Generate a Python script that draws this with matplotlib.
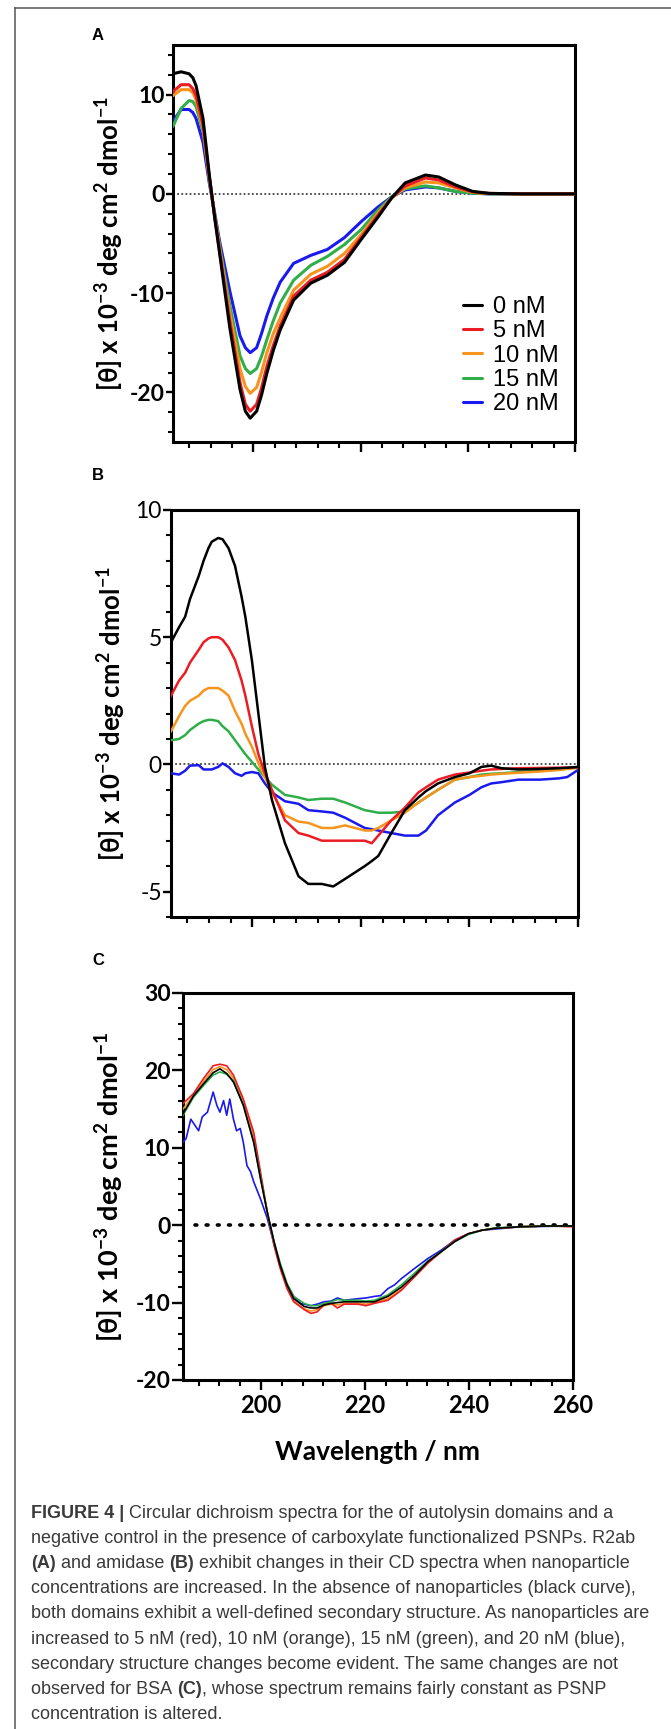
import matplotlib
matplotlib.use('Agg')
import matplotlib.pyplot as plt
from matplotlib.ticker import MultipleLocator
from matplotlib.lines import Line2D
from matplotlib.font_manager import FontProperties, fontManager

# ---------------- data ----------------
conc_labels = ['0 nM', '5 nM', '10 nM', '15 nM', '20 nM']
colors = ['#000000', '#ec1c24', '#f7941d', '#2fae49', '#1a1aee']

# panel A : R2ab
wl_a = [185, 186.5, 188, 188.7, 189.3, 190.6, 191.8, 192.8, 193.7, 195.6, 197.5, 198.5,
        199.4, 200.6, 201.5, 202.5, 203.7, 205, 207.5, 210.7, 213.8, 217, 220.1, 223.3,
        225.8, 228.3, 232.1, 234.6, 237.7, 240.9, 244, 250, 255, 260]
a_0nm = [12.1, 12.3, 12.1, 11.7, 10.9, 7.6, 1.8, -2.5, -6.0, -13.5, -19.7, -21.9,
         -22.6, -21.9, -20.3, -18.1, -15.8, -13.7, -10.7, -9.0, -8.2, -6.9, -4.6, -2.3,
         -0.4, 1.1, 1.9, 1.7, 0.9, 0.25, 0.05, 0, 0, 0]
a_5nm = [10.3, 11.0, 11.0, 10.6, 9.9, 6.9, 1.6, -2.4, -5.8, -12.8, -19.0, -21.2,
         -21.9, -21.2, -19.6, -17.4, -15.3, -13.3, -10.3, -8.7, -7.9, -6.6, -4.4, -2.1,
         -0.4, 0.8, 1.6, 1.4, 0.7, 0.2, 0.05, 0, 0, 0]
a_10nm = [9.9, 10.5, 10.5, 10.2, 9.5, 6.6, 1.5, -2.3, -5.5, -12.0, -17.6, -19.4,
          -20.1, -19.5, -18.0, -16.0, -14.1, -12.5, -9.7, -8.1, -7.3, -6.0, -4.1, -1.9,
          -0.4, 0.6, 1.2, 1.1, 0.6, 0.15, 0.03, 0, 0, 0]
a_15nm = [6.8, 8.6, 9.4, 9.3, 8.8, 6.3, 1.4, -2.2, -5.2, -11.2, -16.3, -17.6,
          -18.1, -17.6, -16.4, -14.7, -12.8, -11.0, -8.7, -7.2, -6.3, -5.1, -3.6, -1.6,
          -0.3, 0.5, 0.8, 0.6, 0.25, 0.07, 0, 0, 0, 0]
a_20nm = [7.3, 8.5, 8.5, 8.2, 7.6, 5.2, 1.0, -2.0, -4.8, -9.8, -14.3, -15.5,
          -16.0, -15.5, -14.1, -12.3, -10.5, -8.9, -7.0, -6.2, -5.6, -4.4, -2.8, -1.3,
          -0.3, 0.4, 0.7, 0.6, 0.25, 0.07, 0, 0, 0, 0]

# panel B : amidase
wl_b = [185, 186.5, 187.6, 188.5, 190.1, 191, 191.9, 192.5, 193.7, 194.5, 195.6, 196.8,
        198, 198.7, 199.9, 201.1, 202.3, 203.6, 206, 208.5, 210.3, 212.8, 214.9, 217.1,
        220.7, 222, 223.2, 225.6, 228.1, 230.6, 232, 234.2, 237.3, 240, 242.2, 244,
        245.9, 249, 253, 256.5, 258, 260]
b_0nm = [4.8, 5.4, 5.8, 6.5, 7.4, 8.0, 8.5, 8.75, 8.9, 8.85, 8.5, 7.8,
         6.6, 5.8, 4.1, 2.0, -0.1, -1.4, -3.1, -4.4, -4.7, -4.7, -4.8, -4.5,
         -4.0, -3.8, -3.6, -2.7, -1.8, -1.3, -1.05, -0.75, -0.5, -0.35, -0.1, -0.05,
         -0.15, -0.2, -0.18, -0.15, -0.13, -0.1]
b_5nm = [2.7, 3.3, 3.6, 4.0, 4.5, 4.8, 4.95, 5.0, 5.0, 4.9, 4.6, 4.1,
         3.3, 2.7, 1.5, 0.4, -0.35, -1.0, -2.2, -2.7, -2.8, -3.0, -3.0, -3.0,
         -3.0, -3.1, -2.8, -2.2, -1.7, -1.1, -0.9, -0.6, -0.4, -0.32, -0.25, -0.2,
         -0.18, -0.15, -0.14, -0.13, -0.13, -0.12]
b_10nm = [1.3, 1.9, 2.3, 2.5, 2.7, 2.9, 3.0, 3.0, 3.0, 2.9, 2.7, 2.1,
          1.6, 1.2, 0.7, 0.05, -0.5, -1.1, -2.0, -2.25, -2.3, -2.5, -2.5, -2.4,
          -2.6, -2.6, -2.5, -2.2, -1.9, -1.5, -1.3, -1.0, -0.6, -0.5, -0.45, -0.4,
          -0.37, -0.33, -0.28, -0.22, -0.18, -0.13]
b_15nm = [0.95, 1.0, 1.15, 1.35, 1.6, 1.7, 1.75, 1.75, 1.7, 1.5, 1.3, 0.95,
          0.6, 0.4, 0.1, -0.2, -0.5, -0.8, -1.2, -1.3, -1.4, -1.35, -1.35, -1.5,
          -1.8, -1.85, -1.9, -1.9, -1.85, -1.5, -1.3, -1.0, -0.6, -0.5, -0.4, -0.37,
          -0.35, -0.3, -0.25, -0.2, -0.17, -0.13]
b_20nm = [-0.35, -0.4, -0.25, -0.05, -0.03, -0.2, -0.2, -0.2, -0.1, 0.04, -0.1, -0.35,
          -0.45, -0.35, -0.3, -0.35, -0.75, -1.1, -1.45, -1.55, -1.8, -1.85, -1.9, -2.1,
          -2.5, -2.55, -2.6, -2.7, -2.8, -2.8, -2.6, -2.0, -1.5, -1.2, -0.9, -0.75,
          -0.7, -0.6, -0.6, -0.55, -0.5, -0.22]

# panel C : BSA
wl_c = [185, 187, 189, 190.8, 192.1, 193.4, 194.7, 196.6, 198.6, 199.9, 201.2, 202.5,
        203.7, 205, 206.3, 208.3, 209.6, 210.8, 212.1, 213.5, 214.7, 216, 218.6, 220.2,
        221.8, 224.4, 227, 229.5, 232.1, 234.7, 237.3, 239.9, 242.5, 245, 250, 255, 260]
c_0nm = [14.4, 16.7, 18.3, 19.7, 20.2, 19.6, 18.5, 15.5, 10.7, 6.0, 1.7, -2.1,
         -5.2, -7.7, -9.5, -10.5, -10.7, -10.7, -10.3, -10.1, -10.0, -9.9, -9.9, -9.9,
         -9.9, -9.2, -8.0, -6.5, -4.7, -3.4, -2.1, -1.1, -0.65, -0.4, -0.2, -0.1, -0.1]
c_5nm = [15.7, 17.0, 19.0, 20.6, 20.8, 20.6, 19.4, 16.3, 12.0, 6.9, 1.7, -2.6,
         -5.6, -8.2, -9.9, -10.9, -11.4, -11.2, -10.3, -10.1, -10.7, -10.2, -10.2, -10.4,
         -10.1, -9.7, -8.4, -6.7, -4.9, -3.4, -1.9, -1.1, -0.65, -0.4, -0.2, -0.1, -0.2]
c_10nm = [15.0, 16.8, 18.6, 20.1, 20.5, 20.1, 19.0, 16.0, 11.4, 6.5, 1.7, -2.4,
          -5.4, -8.0, -9.8, -10.8, -11.1, -10.9, -10.4, -10.2, -10.3, -10.1, -10.1, -10.2,
          -10.0, -9.5, -8.3, -6.6, -4.8, -3.4, -2.0, -1.1, -0.65, -0.4, -0.2, -0.1, -0.15]
c_15nm = [14.2, 16.5, 18.1, 19.4, 19.8, 19.5, 18.7, 15.5, 10.7, 6.2, 1.7, -2.1,
          -4.9, -7.5, -9.2, -10.1, -10.4, -10.4, -10.1, -9.9, -9.6, -9.7, -9.7, -9.8,
          -9.7, -9.0, -7.7, -6.2, -4.6, -3.4, -2.1, -1.2, -0.65, -0.35, -0.2, -0.1, -0.1]
wl_c_blue = [185, 185.6, 186.5, 187.3, 188, 188.7, 189.7, 190.8, 191.5, 192.1, 192.8, 193.4,
             194, 194.7, 195.3, 196, 196.6, 197.3, 198, 198.6, 199.9, 201.2, 202.5, 203.7,
             205, 206.3, 207.6, 208.3, 209.6, 210.8, 212.1, 213.5, 214.7, 216, 218.6, 220.2,
             221.8, 223, 224.4, 225.7, 227, 229.5, 232.1, 234.7, 237.3, 239.9, 242.5, 250, 260]
c_20nm = [10.7, 11.2, 13.7, 12.9, 12.2, 14.0, 14.6, 17.2, 15.5, 14.6, 16.1, 14.2,
          16.3, 13.7, 12.2, 12.5, 10.7, 7.7, 6.9, 5.6, 3.4, 0.9, -2.4, -5.4,
          -7.7, -9.2, -10.1, -10.2, -10.4, -10.2, -9.9, -9.8, -9.4, -9.7, -9.5, -9.4,
          -9.2, -9.1, -8.2, -7.7, -6.9, -5.6, -4.3, -3.2, -1.9, -1.1, -0.65, -0.2, -0.1]

caption = [
    [("FIGURE 4 |", True), ("Circular dichroism spectra for the of autolysin domains and a", False)],
    [("negative control in the presence of carboxylate functionalized PSNPs. R2ab", False)],
    [("(A)", True), ("and amidase", False), ("(B)", True),
     ("exhibit changes in their CD spectra when nanoparticle", False)],
    [("concentrations are increased. In the absence of nanoparticles (black curve),", False)],
    [("both domains exhibit a well-defined secondary structure. As nanoparticles are", False)],
    [("increased to 5 nM (red), 10 nM (orange), 15 nM (green), and 20 nM (blue),", False)],
    [("secondary structure changes become evident. The same changes are not", False)],
    [("observed for BSA", False), ("(C)", True), (", whose spectrum remains fairly constant as PSNP", False)],
    [("concentration is altered.", False)],
]

# ---------------- figure ----------------
plt.rcParams['font.family'] = ['Lato', 'DejaVu Sans']
plt.rcParams['axes.unicode_minus'] = False
plt.rcParams['mathtext.default'] = 'regular'

W, H = 671, 1729
fig = plt.figure(figsize=(W / 100, H / 100), dpi=100)
fig.patch.set_facecolor('white')


def px_axes(l, t, r, b):
    return fig.add_axes([l / W, 1 - b / H, (r - l) / W, (b - t) / H])


def style(ax, ylim, ymaj, ymin, boldy, xlabels, ylen):
    ax.set_xlim(185, 260)
    ax.set_ylim(*ylim)
    ax.xaxis.set_major_locator(MultipleLocator(20))
    ax.xaxis.set_minor_locator(MultipleLocator(4))
    ax.yaxis.set_major_locator(MultipleLocator(ymaj))
    ax.yaxis.set_minor_locator(MultipleLocator(ymin))
    for s in ax.spines.values():
        s.set_linewidth(2.2)
    ax.tick_params(which='major', direction='out', length=7, width=1.7, pad=1)
    ax.tick_params(which='minor', direction='out', length=4, width=1.5)
    ax.tick_params(axis='y', which='major', length=ylen, labelsize=16.5)
    ax.tick_params(axis='y', which='minor', length=3.5)
    ax.tick_params(axis='x', labelsize=17, pad=3, labelbottom=xlabels)
    for lab in ax.get_yticklabels():
        lab.set_fontweight('bold' if boldy else 'normal')
    for lab in ax.get_xticklabels():
        lab.set_fontweight('bold')


ylab = r'[θ] x 10$^{-3}$ deg cm$^{2}$ dmol$^{-1}$'

# panel A
axA = px_axes(173, 45, 575, 442)
axA.axhline(0, color='#444444', lw=1.3, ls=(0, (1, 1.3)), zorder=1)
series_a = [a_0nm, a_5nm, a_10nm, a_15nm, a_20nm]
handles = []
for i in reversed(range(5)):
    ln, = axA.plot(wl_a, series_a[i], color=colors[i], lw=2.2, zorder=2 + (5 - i),
                   solid_joinstyle='round', solid_capstyle='round')
    handles.insert(0, ln)
style(axA, (-25, 15), 10, 2, True, False, 5)
axA.legend(handles, conc_labels, loc='upper left', bbox_to_anchor=(463 / W, 1 - 296 / H),
           bbox_transform=fig.transFigure, frameon=False, borderpad=0, borderaxespad=0,
           handlelength=0.8, handletextpad=0.45, labelspacing=0.1,
           prop=FontProperties(family='Liberation Sans', size=17))

# panel B
axB = px_axes(171, 510, 578, 917)
axB.axhline(0, color='#444444', lw=1.3, ls=(0, (1, 1.3)), zorder=1)
series_b = [b_0nm, b_5nm, b_10nm, b_15nm, b_20nm]
for i in reversed(range(5)):
    axB.plot(wl_b, series_b[i], color=colors[i], lw=1.8, zorder=2 + (5 - i),
             solid_joinstyle='round')
style(axB, (-6, 10), 5, 1, False, False, 5.5)

# panel C
axC = px_axes(183, 993, 573, 1380)
axC.axhline(0, xmin=0.03, color='black', lw=2.6, ls=(0, (0.5, 2.6)),
            dash_capstyle='round', zorder=1)
wl_c_all = [wl_c, wl_c, wl_c, wl_c, wl_c_blue]
series_c = [c_0nm, c_5nm, c_10nm, c_15nm, c_20nm]
for i in [4, 2, 1, 3, 0]:
    axC.plot(wl_c_all[i], series_c[i], color=colors[i], lw=1.2, zorder=3,
             solid_joinstyle='round')
style(axC, (-20, 30), 10, 2, True, True, 8)

# y labels and panel letters
for yc, xc, fs in [((45 + 442) / 2, 110, 18.5), ((510 + 917) / 2, 112, 18.5),
                   ((993 + 1380) / 2, 110, 19.5)]:
    fig.text(xc / W, 1 - yc / H, ylab, rotation=90, ha='center', va='center',
             fontsize=fs, fontweight='bold')
for letter, yc in [('A', 36), ('B', 476), ('C', 961)]:
    fig.text(98 / W, 1 - yc / H, letter, ha='center', va='center', fontsize=12,
             fontweight='bold', family='Liberation Sans')

fig.text(378 / W, 1 - 1452 / H, 'Wavelength / nm', ha='center', va='center',
         fontsize=19, fontweight='bold')

# outer frame (top and left only)
fig.add_artist(Line2D([15 / W, 1], [1 - 8 / H, 1 - 8 / H], color='#555555', lw=1.1,
                      transform=fig.transFigure))
fig.add_artist(Line2D([15 / W, 15 / W], [0, 1 - 8 / H], color='#555555', lw=1.1,
                      transform=fig.transFigure))

# caption with mixed bold runs
names = {f.name for f in fontManager.ttflist}
cap_family = 'Liberation Sans Narrow' if 'Liberation Sans Narrow' in names else 'Liberation Sans'
renderer = fig.canvas.get_renderer()


def text_w(s, size, bold):
    t = fig.text(0, 0, s, fontsize=size, family=cap_family,
                 fontweight='bold' if bold else 'normal')
    w = t.get_window_extent(renderer).width
    t.remove()
    return w


probe = 10.0
line_w = text_w(caption[4][0][0], probe, False)
cap_size = probe * 621 / line_w
space_w = text_w('x x', cap_size, False) - text_w('xx', cap_size, False)

x0, y0, dy = 31, 1513, 25.2
for k, parts in enumerate(caption):
    x = x0
    y = y0 + k * dy
    for j, (s, bold) in enumerate(parts):
        if j > 0 and not s.startswith(','):
            x += space_w
        t = fig.text(x / W, 1 - y / H, s, fontsize=cap_size, family=cap_family,
                     fontweight='bold' if bold else 'normal', color='#3a3a3a',
                     ha='left', va='center')
        x += t.get_window_extent(renderer).width

fig.savefig('out.png', dpi=100, facecolor='white')
